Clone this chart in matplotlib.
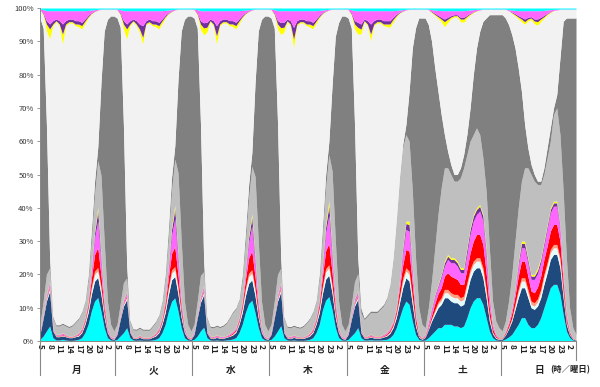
import numpy as np
import matplotlib
matplotlib.use("Agg")
import matplotlib.pyplot as plt
from matplotlib.transforms import blended_transform_factory

plt.rcParams['font.family'] = ['Noto Sans CJK JP', 'DejaVu Sans']

days = ["月", "火", "水", "木", "金", "土", "日"]
hours = [5, 6, 7, 8, 9, 10, 11, 12, 13, 14, 15, 16, 17, 18, 19, 20, 21, 22, 23, 0, 1, 2, 3, 4]
tick_hours = ["5", "8", "11", "14", "17", "20", "23", "2"]

# layer values (%), one list per day, hourly from 5:00 to 4:00
cyan = [
    [0.5,1.5,3,4.5,1,0.3,0.3,0.5,0.3,0.2,0.2,0.3,0.5,1,2.5,5,9,12,13,9,4,1,0.3,0.2],
    [0.5,1.5,2.5,4,1,0.3,0.2,0.3,0.2,0.2,0.2,0.3,0.5,1,2.5,5,9,12,13,9,4,1,0.3,0.2],
    [0.5,1.5,3,4,1,0.3,0.2,0.3,0.2,0.2,0.3,0.4,0.6,1,2.5,5,8.5,11,12,8.5,4,1,0.3,0.2],
    [0.5,1.5,3,4.5,1,0.3,0.2,0.3,0.2,0.2,0.2,0.3,0.5,1,2.5,5,9.5,12.5,13.5,9.5,4,1,0.3,0.2],
    [0.5,1.5,2.5,4,1,0.3,0.3,0.4,0.3,0.3,0.3,0.4,0.5,1,2,4,7,10,12,11,6,2,0.5,0.2],
    [0.3,1,2,3,4,4,5,5,5,4.5,4.5,4,4.5,7,10,12,13,13,11,7,3,1,0.3,0.2],
    [0.2,0.6,1.2,2,3.5,5,7,7,5,4,4,5,7,10,13,16,17,17,14,8,3,1,0.3,0.1],
]
navy = [
    [1.5,5.5,9,10.5,2,1,1,1,1,0.8,0.8,1,1,1.5,2.5,3.5,5,6,6,5,3,1.5,0.5,0.3],
    [1.5,5,8,8.5,1.5,0.5,0.5,0.8,0.5,0.5,0.5,0.8,1,1.5,2.5,3.5,5,6.5,6.5,5,3,1.5,0.5,0.3],
    [1.5,5.5,8.5,9.5,1.5,0.6,0.5,0.8,0.6,0.6,0.8,1,1.2,1.6,2.5,3.5,5,6,6,5,3,1.5,0.5,0.3],
    [1.5,5.5,9,10,1.5,0.6,0.5,0.8,0.6,0.6,0.6,0.8,1,1.5,2.5,3.5,5,6.5,6.5,5,3,1.5,0.5,0.3],
    [1.5,5,8,8.5,1.5,0.6,0.6,0.8,0.6,0.6,0.6,0.8,1,1.3,2,3,4.5,6,7,7,5,2.5,0.7,0.3],
    [0.8,2.5,4,5,6,7,8,8,7,7,7,6.5,6.5,7.5,8.5,9,9,9,8,6,3,1.2,0.5,0.3],
    [0.4,1.2,2.5,4,6,8,9,9,8,6,5.5,5.5,6,7,7.5,8.5,9,9,8,5,2,0.8,0.3,0.15],
]
pale_cyan = [
    [0.2,0.3,0.5,0.8,0.2,0.1,0.1,0.1,0.1,0.1,0.1,0.1,0.2,0.3,0.5,1,1.5,2,2,1.5,0.8,0.3,0.1,0.1],
    [0.2,0.3,0.5,0.6,0.1,0.1,0.1,0.1,0.1,0.1,0.1,0.1,0.2,0.3,0.5,1,1.5,2,2,1.5,0.8,0.3,0.1,0.1],
    [0.2,0.3,0.5,0.7,0.2,0.1,0.1,0.1,0.1,0.1,0.1,0.1,0.2,0.3,0.5,1,1.5,2,2,1.5,0.8,0.3,0.1,0.1],
    [0.2,0.3,0.5,0.8,0.2,0.1,0.1,0.1,0.1,0.1,0.1,0.1,0.2,0.3,0.5,1,1.5,2.2,2.2,1.5,0.8,0.3,0.1,0.1],
    [0.2,0.3,0.5,0.6,0.2,0.1,0.1,0.1,0.1,0.1,0.1,0.1,0.2,0.3,0.4,0.8,1.2,1.8,2,2,1.5,0.6,0.2,0.1],
    [0.1,0.3,0.5,0.8,1,1.2,1.5,1.5,1.5,1.5,1.5,1.5,1.5,2,2,2,2,2,2,1.5,1,0.3,0.2,0.1],
    [0.1,0.2,0.3,0.5,1,1.5,2,2,1.5,1,1,1.2,1.5,2,2,2,2,2,2,1.2,0.5,0.2,0.1,0.05],
]
salmon = [
    [0.1,0.1,0.2,0.2,0.1,0.1,0.1,0.1,0.1,0.1,0.1,0.1,0.1,0.2,0.3,0.5,0.8,1,1,0.8,0.4,0.2,0.1,0.1],
    [0.1,0.1,0.2,0.2,0.1,0.1,0.1,0.1,0.1,0.1,0.1,0.1,0.1,0.2,0.3,0.5,0.8,1,1,0.8,0.4,0.2,0.1,0.1],
    [0.1,0.1,0.2,0.2,0.1,0.1,0.1,0.1,0.1,0.1,0.1,0.1,0.1,0.2,0.3,0.5,0.8,1,1,0.8,0.4,0.2,0.1,0.1],
    [0.1,0.1,0.2,0.2,0.1,0.1,0.1,0.1,0.1,0.1,0.1,0.1,0.1,0.2,0.3,0.5,0.8,1,1,0.8,0.4,0.2,0.1,0.1],
    [0.1,0.1,0.2,0.2,0.1,0.1,0.1,0.1,0.1,0.1,0.1,0.1,0.1,0.2,0.3,0.4,0.7,1,1,1,0.8,0.4,0.1,0.1],
    [0.1,0.2,0.3,0.5,0.7,0.8,1,1,1,1,1,1,1,1,1,1,1,1,1,1,0.5,0.2,0.1,0.1],
    [0.05,0.1,0.2,0.4,0.6,1,1,1,1,1,1,1,1,1,1,1,1,1,1,0.8,0.4,0.1,0.05,0.05],
]
red = [
    [0.1,0.2,0.3,0.5,0.1,0.1,0.1,0.2,0.1,0.1,0.1,0.1,0.2,0.4,0.6,1,2.5,5,6,3.5,1.5,0.3,0.1,0.1],
    [0.1,0.2,0.3,0.4,0.1,0.1,0.1,0.1,0.1,0.1,0.1,0.1,0.2,0.4,0.6,1.2,3,5,6,3.5,1.5,0.3,0.1,0.1],
    [0.1,0.2,0.3,0.4,0.1,0.1,0.1,0.1,0.1,0.1,0.1,0.2,0.3,0.4,0.6,1,2.5,4.5,5.5,3.5,1.5,0.3,0.1,0.1],
    [0.1,0.2,0.3,0.5,0.1,0.1,0.1,0.1,0.1,0.1,0.1,0.1,0.2,0.4,0.6,1.2,3,5.5,6.5,4,1.5,0.3,0.1,0.1],
    [0.1,0.2,0.3,0.4,0.1,0.1,0.1,0.2,0.1,0.1,0.1,0.2,0.3,0.5,0.6,1,2.5,4,5.5,6,4,1.5,0.3,0.1],
    [0.2,0.5,1,2,2.5,3,4,5,5,5,4.5,4,3.5,4,5,6,7,7,7,5,2.5,1,0.4,0.1],
    [0.1,0.4,0.8,1.5,2.5,4,5,5,4,3,3,3.5,4,4.5,5,5.5,6,6,5,2.5,1,0.4,0.1,0.05],
]
pink = [
    [0.4,0.3,0.6,1,0.4,0.2,0.2,0.4,0.2,0.1,0.1,0.2,0.3,0.4,0.4,0.6,2,5,8,4,1.5,0.5,0.3,0.1],
    [0.4,0.4,0.6,0.8,0.3,0.1,0.1,0.2,0.1,0.1,0.1,0.2,0.3,0.4,0.5,0.8,2.5,5.5,8.5,4.5,1.5,0.5,0.3,0.1],
    [0.4,0.3,0.6,0.9,0.3,0.2,0.2,0.3,0.2,0.2,0.2,0.3,0.4,0.4,0.5,0.7,2,4.5,7.5,4,1.5,0.5,0.3,0.1],
    [0.4,0.3,0.6,1,0.3,0.2,0.2,0.3,0.2,0.1,0.1,0.2,0.3,0.4,0.5,0.8,2.5,5.5,8.5,4.5,1.5,0.5,0.3,0.1],
    [0.4,0.5,0.8,1,0.3,0.2,0.2,0.3,0.2,0.2,0.2,0.3,0.4,0.5,0.5,0.6,1.5,3.5,6,6,3.5,0.8,0.2,0.1],
    [0.3,1,1.5,2,2,3,3,4,4,4.5,4,3.5,3.5,4.5,5.5,6,6,7,7,5,3,1,0.4,0.1],
    [0.1,0.3,0.6,1,1.5,3,4,4,4,3.5,4,4,4,4,5,5.5,5.5,5.5,4,2,0.8,0.3,0.1,0.05],
]
purple = [
    [0.1,0.1,0.2,0.3,0.1,0.1,0.1,0.1,0.1,0.05,0.05,0.1,0.1,0.1,0.1,0.2,0.7,1.5,3,1.5,0.5,0.1,0.05,0.05],
    [0.1,0.1,0.2,0.3,0.1,0.05,0.05,0.1,0.05,0.05,0.05,0.1,0.1,0.1,0.1,0.3,0.8,1.8,3,1.5,0.5,0.1,0.05,0.05],
    [0.1,0.1,0.2,0.3,0.1,0.1,0.1,0.1,0.1,0.05,0.05,0.1,0.1,0.1,0.1,0.2,0.6,1.4,2.5,1.3,0.5,0.1,0.05,0.05],
    [0.1,0.1,0.2,0.3,0.1,0.1,0.1,0.1,0.1,0.05,0.05,0.1,0.1,0.1,0.1,0.3,0.8,1.8,3,1.5,0.5,0.1,0.05,0.05],
    [0.1,0.2,0.3,0.3,0.1,0.1,0.1,0.1,0.1,0.1,0.1,0.1,0.1,0.1,0.1,0.2,0.4,1.2,1.8,2,1,0.2,0.05,0.05],
    [0.1,0.3,0.5,0.5,0.5,0.7,1,1,1,1,1,1,1,1.5,1.5,1.5,1.5,1.5,1.5,1.5,0.7,0.2,0.1,0.05],
    [0.05,0.1,0.2,0.4,0.6,1,1.3,1.3,1,1,1,1,1,1,1,1,1,1,0.7,0.3,0.2,0.1,0.05,0.03],
]
yellow = [
    [0.1,0.1,0.2,0.2,0.1,0.1,0.1,0.1,0.1,0.05,0.05,0.1,0.1,0.1,0.1,0.2,0.5,0.5,1,0.7,0.3,0.1,0.05,0.05],
    [0.1,0.1,0.2,0.2,0.1,0.05,0.05,0.1,0.05,0.05,0.05,0.1,0.1,0.1,0.1,0.2,0.5,0.7,1,0.7,0.3,0.1,0.05,0.05],
    [0.1,0.1,0.2,0.2,0.1,0.1,0.1,0.1,0.1,0.05,0.05,0.1,0.1,0.1,0.1,0.2,0.4,0.6,1,0.7,0.3,0.1,0.05,0.05],
    [0.1,0.1,0.2,0.2,0.1,0.1,0.1,0.1,0.1,0.05,0.05,0.1,0.1,0.1,0.1,0.2,0.6,1,1.5,0.8,0.3,0.1,0.05,0.05],
    [0.1,0.1,0.2,0.2,0.1,0.1,0.1,0.1,0.1,0.1,0.1,0.1,0.1,0.1,0.1,0.2,0.3,0.5,0.7,1,0.5,0.1,0.05,0.05],
    [0.1,0.2,0.2,0.2,0.3,0.3,0.5,0.5,0.5,0.5,0.5,0.5,0.5,0.5,0.5,0.5,0.5,0.5,0.5,1,0.3,0.1,0.05,0.05],
    [0.05,0.1,0.2,0.2,0.3,0.5,0.7,0.7,0.5,0.5,0.5,0.8,0.5,0.5,0.5,0.5,0.5,0.5,0.3,0.2,0.1,0.1,0.05,0.02],
]
light_gray = [
    [2,4,6,4,3,2.5,2.5,2.5,2.5,2.5,3,3.5,4,4.5,4.5,6,8,11,14,24,18,8,3.5,2],
    [2,3.5,5,4,2.5,2,2,2,2,2,2,2.5,3,3.5,4.5,6,8,11,14,24,18,8,3.5,2],
    [2,4,6,4,3.5,2.5,2.5,2.5,2.5,3,3.5,4.5,5.5,5.5,5,6,8,11,14,24,18,8,3.5,2],
    [2,4,6,4,3.5,2.5,2.5,2.5,2.5,2.5,3,3.5,4,4.5,4.5,6,8,11,14,24,18,8,3.5,2],
    [2,3,5,5,5,4.8,5.9,6.4,6.9,6.9,7.9,8.4,9.8,12.5,18.5,25,30,30,26,24,23,17,8,4],
    [2,4,8,14,21,26,28,26,25,23,24,27,30,28,26,24,24,21,17,17,14,7,4,3],
    [2,3,6,10,14,16,18,22,27,30,28,25,22,20,20,20,26,28,27,25,17,7,3,1.5],
]
dark_gray = [
    [92,82,45,3,0.5,0.4,0.4,0.4,0.4,0.4,0.4,0.4,0.4,0.4,0.5,1.5,3,4,4,28,63,84.5,92.5,94.5],
    [92,83,47,4,0.5,0.4,0.4,0.4,0.4,0.4,0.4,0.4,0.4,0.4,0.5,1.5,3,4,4,28,63,84.5,92.5,94.5],
    [92,82,45,3,0.5,0.4,0.4,0.4,0.4,0.4,0.4,0.4,0.4,0.4,0.5,1.5,3,4,4,28,63,84.5,92.5,94.5],
    [92,82,46,3,0.5,0.4,0.4,0.4,0.4,0.4,0.4,0.4,0.4,0.4,0.5,1.5,3,4,4,26,60,83,92.5,94.5],
    [92,83,47,5,1.5,0.5,0.5,0.5,0.5,0.5,0.5,0.5,0.5,0.5,0.5,1,1,1,3,15,43,69,87,92],
    [93,85,72,54,37,22,10,5,3,2,2,3,4,6,10,18,24,31,41,52,70,86,92,94],
    [95,91,83,72,58,42,27,13,6,3,2,1,1,2,3,4,2,4,23,51,72,87,93,95],
]
pale_gray = [
    [2.5,4,28,66,87,91,90,84,90,91,90.5,89,87,85,83,77,65,51,41,22,6.5,3,2,2],
    [2.5,3.7,29,68,88,92,91,88,85.5,91,92,90,88,86,83,77,65,50,41,21,6.5,3,2,2],
    [2.5,4,28,66,86,91,90,84,90,90.5,90,88,86,84,83,77,65,51,42,22,6.5,3,2,2],
    [2.5,4,28,66,86,91,90,83,90,91,90.5,89,87,85,83,77,65,50,40,23,8,4,2,2],
    [2.5,3.9,28.7,67,82,89,86.7,81,85.7,86.5,85.5,83.7,81.4,77.2,70.8,61.3,49.4,40,34.4,24.6,11.6,5.6,2.6,2.6],
    [2.6,4.5,8.6,15.8,21.9,27.9,32.4,38.6,43.8,47.3,47.3,43.9,39.7,35,27.9,18.6,11.1,6.4,3.6,2.6,1.6,1.6,1.6,1.6],
    [1.6,2.6,4.2,6.4,9.6,14.8,20.9,30.1,38.1,43.5,45.3,46.9,47.9,44.9,39.9,34.6,29.2,25.4,14.6,3.6,2.6,2.6,2.6,2.6],
]
top_yellow = [
    [0,0.3,2,3,0.5,0.3,0.5,3,0.5,0.4,0.4,0.5,0.8,1,0.8,0.4,0.2,0.1,0,0,0,0,0,0],
    [0,0.3,1.5,3,0.5,0.3,0.5,1,2,0.4,0.4,0.5,0.8,1,0.8,0.4,0.2,0.1,0,0,0,0,0,0],
    [0,0.3,1.5,2,1.5,0.3,0.5,2.5,0.5,0.4,0.4,0.5,0.8,1,0.8,0.4,0.2,0.1,0,0,0,0,0,0],
    [0,0.3,1.5,2,1.5,0.3,0.5,2.5,0.5,0.4,0.4,0.5,0.8,1,0.8,0.4,0.2,0.1,0,0,0,0,0,0],
    [0,0.3,1.5,2,1.5,0.3,0.5,2,0.5,0.4,0.4,0.5,0.8,1,0.8,0.4,0.2,0.1,0,0,0,0,0,0],
    [0,0,0.2,0.3,0.5,0.8,1.5,1,0.5,0.4,0.4,0.8,1,0.5,0.3,0.2,0.1,0,0,0,0,0,0,0],
    [0,0,0,0.2,0.4,0.5,0.8,0.8,0.6,0.5,0.8,1,0.8,0.5,0.3,0.2,0.1,0,0,0,0,0,0,0],
]
top_purple = [
    [0,0.3,1,1.5,1,0.5,1,3,1,0.8,0.8,1,1,1,0.6,0.4,0.2,0.1,0,0,0,0,0,0],
    [0,0.3,1,1.5,1,0.5,1,1.5,3.5,0.8,0.8,1,1,1,0.6,0.4,0.2,0.1,0,0,0,0,0,0],
    [0,0.3,1,1.5,1.5,0.5,1,3,1,0.8,0.8,1,1,1,0.6,0.4,0.2,0.1,0,0,0,0,0,0],
    [0,0.3,1,1.5,1.5,0.5,1,3.5,1,0.8,0.8,1,1,1,0.6,0.4,0.2,0.1,0,0,0,0,0,0],
    [0,0.3,1,1.5,1.5,0.5,1,3,1,0.8,0.8,1,1,1,0.6,0.4,0.2,0.1,0,0,0,0,0,0],
    [0,0,0.2,0.3,0.4,0.5,0.8,0.6,0.4,0.3,0.3,0.5,0.5,0.3,0.2,0.1,0.1,0,0,0,0,0,0,0],
    [0,0,0,0.2,0.3,0.4,0.5,0.8,0.5,0.4,0.6,0.8,0.5,0.4,0.2,0.1,0,0,0,0,0,0,0,0],
]
top_pink = [
    [0.2,1,3,4,3,2.5,3,4,3,2.5,2.5,3,3,3.5,2.5,1.5,0.8,0.4,0.2,0.1,0.1,0.1,0.1,0.1],
    [0.2,1,3,4,3,2.5,3,4,4.5,3,2.5,3,3,3.5,2.5,1.5,0.8,0.4,0.2,0.1,0.1,0.1,0.1,0.1],
    [0.2,1,3,3.5,3.5,2.5,3,4.5,3,2.5,2.5,3,3,3.5,2.5,1.5,0.8,0.4,0.2,0.1,0.1,0.1,0.1,0.1],
    [0.2,1,3,3.5,3.5,2.5,3,5,3,2.5,2.5,3,3,3.5,2.5,1.5,0.8,0.4,0.2,0.1,0.1,0.1,0.1,0.1],
    [0.2,1,3,3.5,4,2.5,3,4,3,2.5,2.5,3,3,3,2,1.2,0.6,0.3,0.2,0.1,0.1,0.1,0.1,0.1],
    [0.1,0.2,0.5,1,1.5,2,2.5,2,1.5,1.2,1.2,2,2,1.5,1,0.6,0.3,0.2,0.1,0.1,0.1,0.1,0.1,0.1],
    [0.1,0.1,0.3,0.6,1,1.5,2,2.5,2,1.8,2.5,2.5,2,1.5,1,0.6,0.3,0.2,0.1,0.1,0.1,0.1,0.1,0.1],
]
top_cyan = [
    [0.3,0.5,0.8,0.8,0.8,0.8,0.8,0.8,0.8,0.8,0.8,0.8,0.8,0.8,0.8,0.7,0.6,0.5,0.4,0.3,0.3,0.3,0.3,0.3],
    [0.3,0.5,0.8,0.8,0.8,0.8,0.8,0.8,0.8,0.8,0.8,0.8,0.8,0.8,0.8,0.7,0.6,0.5,0.4,0.3,0.3,0.3,0.3,0.3],
    [0.3,0.5,0.8,0.8,0.8,0.8,0.8,0.8,0.8,0.8,0.8,0.8,0.8,0.8,0.8,0.7,0.6,0.5,0.4,0.3,0.3,0.3,0.3,0.3],
    [0.3,0.5,0.8,0.8,0.8,0.8,0.8,0.8,0.8,0.8,0.8,0.8,0.8,0.8,0.8,0.7,0.6,0.5,0.4,0.3,0.3,0.3,0.3,0.3],
    [0.3,0.5,0.8,0.8,0.8,0.8,0.8,0.8,0.8,0.8,0.8,0.8,0.8,0.8,0.8,0.7,0.6,0.5,0.4,0.3,0.3,0.3,0.3,0.3],
    [0.3,0.3,0.5,0.6,0.7,0.8,0.8,0.8,0.8,0.8,0.8,0.8,0.8,0.7,0.6,0.5,0.4,0.4,0.3,0.3,0.3,0.3,0.3,0.3],
    [0.3,0.3,0.5,0.6,0.7,0.8,0.8,0.8,0.8,0.8,0.8,0.8,0.8,0.7,0.6,0.5,0.4,0.4,0.3,0.3,0.3,0.3,0.3,0.3],
]

layers = [
    (cyan, "#00FFFF"), (navy, "#1F4A7E"), (pale_cyan, "#E4FCFC"), (salmon, "#FF9E80"),
    (red, "#FF0000"), (pink, "#FF66FF"), (purple, "#7030A0"), (yellow, "#FFFF00"),
    (light_gray, "#BFBFBF"), (dark_gray, "#808080"), (pale_gray, "#F2F2F2"),
    (top_yellow, "#FFFF00"), (top_purple, "#7030A0"), (top_pink, "#FF66FF"), (top_cyan, "#00FFFF"),
]

vals = np.array([np.concatenate([np.array(d, float) for d in L]) for L, _ in layers])
vals = vals / vals.sum(axis=0) * 100.0  # 100% stacked
cum = np.vstack([np.zeros(vals.shape[1]), np.cumsum(vals, axis=0)])
x = np.arange(vals.shape[1])

fig = plt.figure(figsize=(6.0, 3.87), dpi=100)
ax = fig.add_axes([40/600, 46/387, 536/600, 333/387])
for i, (_, col) in enumerate(layers):
    ax.fill_between(x, cum[i], cum[i+1], color=col, linewidth=0)

ax.set_xlim(0, x[-1])
ax.set_ylim(0, 100)
ax.set_yticks(np.arange(0, 101, 10))
ax.set_yticklabels([f"{v}%" for v in range(0, 101, 10)], fontsize=5.5, color="#333333")
ax.tick_params(axis='y', length=2.5, width=0.6, color="#888888", pad=2)

tick_pos = []
tick_lab = []
for d in range(7):
    for i, lab in enumerate(tick_hours):
        tick_pos.append(d*24 + i*3)
        tick_lab.append(lab)
ax.set_xticks(tick_pos)
ax.set_xticklabels(tick_lab, rotation=270, fontsize=6, fontweight='bold', color="#222222")
ax.tick_params(axis='x', length=0, pad=2)

for s in ['top', 'right']:
    ax.spines[s].set_visible(False)
ax.spines['left'].set_color("#888888")
ax.spines['bottom'].set_color("#888888")
ax.spines['left'].set_linewidth(0.7)
ax.spines['bottom'].set_linewidth(0.7)

tr = blended_transform_factory(ax.transData, ax.transAxes)
for d in range(8):
    xs = min(max(d*24 - 0.5, 0), x[-1])
    y_end = -0.057 if d == 7 else -0.102
    ax.plot([xs, xs], [0, y_end], transform=tr, color="#888888", lw=0.8, clip_on=False)
for d, name in enumerate(days):
    ax.text(d*24 + 11.5, -0.087, name, transform=tr, ha='center', va='center',
            fontsize=7, fontweight='bold', color="#222222")
ax.text(0.99, -0.087, "(時／曜日)", transform=ax.transAxes, ha='center', va='center',
        fontsize=6, fontweight='bold', color="#222222")

fig.savefig("out.png", dpi=100)
